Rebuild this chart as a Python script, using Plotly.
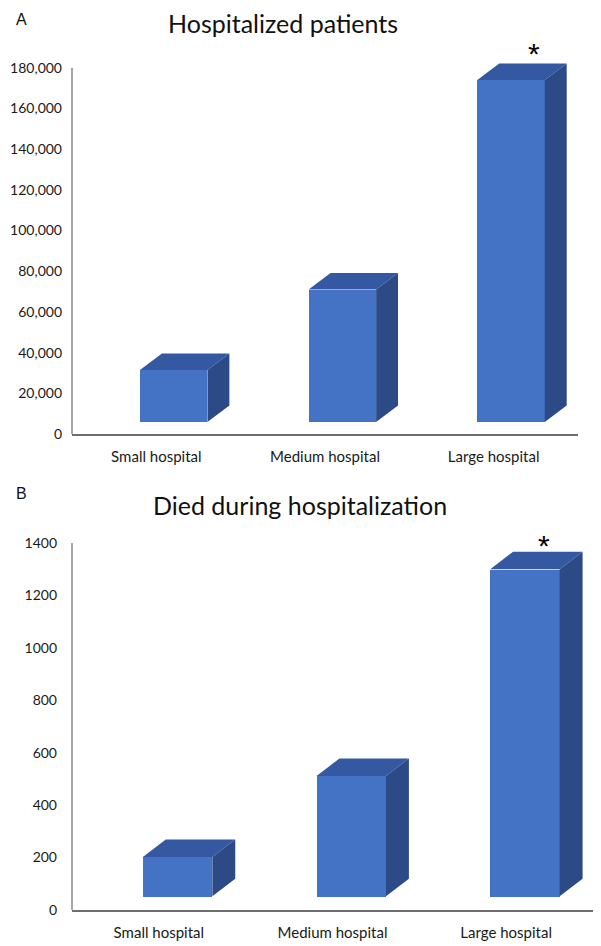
import plotly.graph_objects as go

# data
categories = ["Small hospital", "Medium hospital", "Large hospital"]
hospitalized = [31500, 71000, 174000]
died = [202, 511, 1300]
significant = [False, False, True]
ticks_a = [0, 20000, 40000, 60000, 80000, 100000, 120000, 140000, 160000, 180000]
ticks_b = [0, 200, 400, 600, 800, 1000, 1200, 1400]

FRONT = "#4472C4"
TOP = "#3459A2"
SIDE = "#2C4B86"
FONT = "Lato"

# the page adds an 8px body margin, so the figure is laid out in screen pixels minus 8
PAD = 8
W, H = 601 - PAD, 946 - PAD


def fx(x):
    return (x - PAD) / W


def fy(y):
    return 1 - (y - PAD) / H


fig = go.Figure()


def add_3d_bars(values, xaxis, yaxis, base, dx, dy, off, width):
    xs = list(range(len(values)))
    # front faces
    fig.add_trace(go.Bar(
        x=xs, y=[v - base for v in values], base=base,
        offset=off, width=width, marker=dict(color=FRONT, line=dict(width=0)),
        xaxis=xaxis, yaxis=yaxis, showlegend=False, hoverinfo="skip"
    ))
    top_x, top_y, side_x, side_y = [], [], [], []
    for x, v in zip(xs, values):
        x0 = x + off
        x1 = x0 + width
        top_x += [x0, x1, x1 + dx, x0 + dx, x0, None]
        top_y += [v, v, v + dy, v + dy, v, None]
        side_x += [x1, x1, x1 + dx, x1 + dx, x1, None]
        side_y += [base, v, v + dy, base + dy, base, None]
    for px, py, col in [(top_x, top_y, TOP), (side_x, side_y, SIDE)]:
        fig.add_trace(go.Scatter(
            x=px, y=py, mode="lines", fill="toself", fillcolor=col,
            line=dict(width=0, color=col), xaxis=xaxis, yaxis=yaxis,
            showlegend=False, hoverinfo="skip"
        ))


add_3d_bars(hospitalized, "x", "y", base=5900, dx=0.13, dy=8100, off=-0.097, width=0.40)
add_3d_bars(died, "x2", "y2", base=52, dx=0.132, dy=67, off=-0.092, width=0.40)

# significance stars
for i, s in enumerate(significant):
    if s:
        fig.add_annotation(x=i + 0.24, y=hospitalized[i] + 8100, xref="x", yref="y",
                           text="*", showarrow=False, yshift=10,
                           font=dict(family="Liberation Sans", size=30, color="black"))
        fig.add_annotation(x=i + 0.22, y=died[i] + 67, xref="x2", yref="y2",
                           text="*", showarrow=False, yshift=6,
                           font=dict(family="Liberation Sans", size=30, color="black"))

xcommon = dict(
    range=[-0.5, 2.5], tickvals=[0, 1, 2], ticktext=categories,
    showline=True, linecolor="#6e6e6e", linewidth=2, showgrid=False,
    zeroline=False, ticks="", ticklabelstandoff=8, automargin=False,
    tickfont=dict(family=FONT, size=15, color="#1a1a1a"), fixedrange=True
)
ycommon = dict(
    showline=False, showgrid=False, automargin=False,
    zeroline=False, ticks="",
    tickfont=dict(family=FONT, size=14, color="#1a1a1a")
)

fig.update_layout(
    template="none",
    width=W, height=H,
    margin=dict(l=0, r=0, t=0, b=0),
    plot_bgcolor="white", paper_bgcolor="white",
    bargap=0,
    xaxis=dict(domain=[fx(72), fx(578)], anchor="y", **xcommon),
    yaxis=dict(domain=[fy(434), fy(27)], anchor="x", range=[0, 200000],
               tickvals=ticks_a, tickformat=",d", ticklabelstandoff=9, **ycommon),
    xaxis2=dict(domain=[fx(72), fx(593)], anchor="y2", **xcommon),
    yaxis2=dict(domain=[fy(910), fy(490.6)], anchor="x2", range=[0, 1600],
                tickvals=ticks_b, tickformat="d", ticklabelstandoff=14, **ycommon),
)

# value axis lines stop at the top tick, as in the original
fig.add_shape(type="line", xref="x domain", yref="y", x0=0, x1=0,
              y0=ticks_a[0], y1=ticks_a[-1], line=dict(color="#8a8a8a", width=1.5))
fig.add_shape(type="line", xref="x2 domain", yref="y2", x0=0, x1=0,
              y0=ticks_b[0], y1=ticks_b[-1], line=dict(color="#8a8a8a", width=1.5))

fig.add_annotation(x=fx(283), y=fy(23), xref="paper", yref="paper",
                   text="Hospitalized patients", showarrow=False, yanchor="middle",
                   font=dict(family=FONT, size=25, color="#111"))
fig.add_annotation(x=fx(300), y=fy(505), xref="paper", yref="paper",
                   text="Died during hospitalization", showarrow=False, yanchor="middle",
                   font=dict(family=FONT, size=25, color="#111"))
fig.add_annotation(x=fx(14), y=fy(19), xref="paper", yref="paper",
                   text="A", showarrow=False, yanchor="middle",
                   font=dict(family="Liberation Sans", size=16, color="#111"))
fig.add_annotation(x=fx(14), y=fy(494), xref="paper", yref="paper",
                   text="B", showarrow=False, yanchor="middle",
                   font=dict(family="Liberation Sans", size=16, color="#111"))

fig.write_html("out.html")
